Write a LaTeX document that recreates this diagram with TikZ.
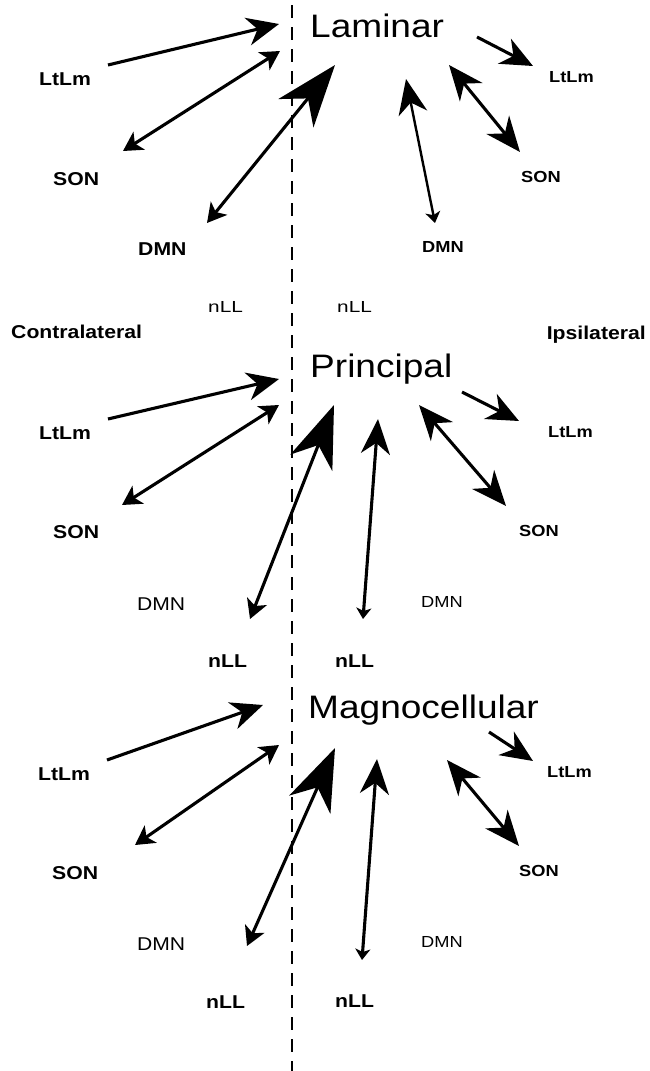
\documentclass[tikz,border=0pt]{standalone}
\usepackage{fontspec}
\setmainfont{Liberation Sans}[FakeStretch=1.14]
\newfontfamily\widefont{Liberation Sans}[FakeStretch=1.3]
\usetikzlibrary{arrows.meta}
\tikzset{
  lbl/.style={inner sep=0pt, anchor=base west, font=\bfseries\fontsize{18.6}{20}\selectfont},
  lblr/.style={inner sep=0pt, anchor=base west, font=\bfseries\fontsize{16}{18}\selectfont},
  reg/.style={inner sep=0pt, anchor=base west, font=\fontsize{18.5}{20}\selectfont},
  regr/.style={inner sep=0pt, anchor=base west, font=\fontsize{16}{18}\selectfont},
  nllreg/.style={inner sep=0pt, anchor=base west, font=\widefont\fontsize{16}{18}\selectfont},
  title/.style={inner sep=0pt, anchor=base west, font=\fontsize{32.5}{36}\selectfont},
  conn/.style={line width=3.1pt},
  connthin/.style={line width=2.4pt},
  tipM/.tip={Stealth[length=32pt,width=28pt,inset=10pt]},
  tipS/.tip={Stealth[length=19pt,width=21pt,inset=5pt]},
  tipB/.tip={Stealth[length=62pt,width=45pt,inset=19pt]},
  tipR/.tip={Stealth[length=35pt,width=29pt,inset=11pt]},
  tipT/.tip={Stealth[length=11pt,width=15pt,inset=3pt]},
  divider/.style={line width=1.5pt, dash pattern=on 13pt off 9pt}
}
\begin{document}
\begin{tikzpicture}[x=1pt,y=-1pt]
\useasboundingbox[fill=white] (0,0) rectangle (649,1071);

% dividing line
\coordinate (dtop) at (292,5);
\coordinate (dbot) at (292,1071);
\draw[divider] (dtop) -- (dbot);

% ---------------- Laminar ----------------
\node[title] (lam) at (310,37) {Laminar};
\node[lbl] (lamLtL) at (39,85) {LtLm};
\node[lbl] (lamSONL) at (53,185) {SON};
\node[lbl] (lamDMNL) at (138,255) {DMN};
\node[lblr] (lamLtR) at (549,82) {LtLm};
\node[lblr] (lamSONR) at (521,182) {SON};
\node[lblr] (lamDMNR) at (422,252) {DMN};

\coordinate (a1t) at (108,65);  \coordinate (a1h) at (279,24);
\coordinate (a2a) at (123,151); \coordinate (a2b) at (280,51);
\coordinate (a3a) at (207,223); \coordinate (a3b) at (335,65);
\coordinate (a4t) at (477,37);  \coordinate (a4h) at (533,66);
\coordinate (a5a) at (449,65);  \coordinate (a5b) at (520,152);
\coordinate (a6a) at (406,79);  \coordinate (a6b) at (435,223);

\draw[conn,-tipM] (a1t) -- (a1h);
\draw[conn,tipS-tipS] (a2a) -- (a2b);
\draw[conn,tipS-tipB] (a3a) -- (a3b);
\draw[conn,-tipM] (a4t) -- (a4h);
\draw[conn,tipR-tipR] (a5a) -- (a5b);
\draw[connthin,tipR-tipT] (a6a) -- (a6b);

% middle labels
\node[nllreg] (nllL) at (208,312) {nLL};
\node[nllreg] (nllR) at (337,312) {nLL};
\node[lbl] (contra) at (11,338) {Contralateral};
\node[lbl, anchor=base east] (ipsi) at (646,339) {Ipsilateral};

% ---------------- Principal ----------------
\node[title] (pri) at (310,377) {Principal};
\node[lbl] (priLtL) at (39,439) {LtLm};
\node[lbl] (priSONL) at (53,538) {SON};
\node[reg] (priDMNL) at (137,610) {DMN};
\node[lbl] (prinLLL) at (208,667) {nLL};
\node[lblr] (priLtR) at (548,437) {LtLm};
\node[lblr] (priSONR) at (519,536) {SON};
\node[regr] (priDMNR) at (421,607) {DMN};
\node[lbl] (prinLLR) at (335,667) {nLL};

\coordinate (b1t) at (108,419); \coordinate (b1h) at (279,379);
\coordinate (b2a) at (122,505); \coordinate (b2b) at (279,405);
\coordinate (b3a) at (250,619); \coordinate (b3b) at (334,405);
\coordinate (b4t) at (462,392); \coordinate (b4h) at (519,421);
\coordinate (b5a) at (419,405); \coordinate (b5b) at (506,506);
\coordinate (b6a) at (378,419); \coordinate (b6b) at (363,619);

\draw[conn,-tipM] (b1t) -- (b1h);
\draw[conn,tipS-tipS] (b2a) -- (b2b);
\draw[conn,tipS-tipB] (b3a) -- (b3b);
\draw[conn,-tipM] (b4t) -- (b4h);
\draw[conn,tipR-tipR] (b5a) -- (b5b);
\draw[conn,tipR-tipT] (b6a) -- (b6b);

% ---------------- Magnocellular ----------------
\node[title] (mag) at (308,718) {Magnocellular};
\node[lbl] (magLtL) at (38,780) {LtLm};
\node[lbl] (magSONL) at (52,879) {SON};
\node[reg] (magDMNL) at (137,950) {DMN};
\node[lbl] (magnLLL) at (206,1008) {nLL};
\node[lblr] (magLtR) at (547,777) {LtLm};
\node[lblr] (magSONR) at (519,876) {SON};
\node[regr] (magDMNR) at (421,947) {DMN};
\node[lbl] (magnLLR) at (335,1007) {nLL};

\coordinate (c1t) at (107,760); \coordinate (c1h) at (263,705);
\coordinate (c2a) at (135,845); \coordinate (c2b) at (279,745);
\coordinate (c3a) at (247,946); \coordinate (c3b) at (335,748);
\coordinate (c4t) at (489,732); \coordinate (c4h) at (533,761);
\coordinate (c5a) at (447,760); \coordinate (c5b) at (519,846);
\coordinate (c6a) at (377,759); \coordinate (c6b) at (362,960);

\draw[conn,-tipM] (c1t) -- (c1h);
\draw[conn,tipS-tipS] (c2a) -- (c2b);
\draw[conn,tipS-tipB] (c3a) -- (c3b);
\draw[conn,-tipM] (c4t) -- (c4h);
\draw[conn,tipR-tipR] (c5a) -- (c5b);
\draw[conn,tipR-tipT] (c6a) -- (c6b);
\end{tikzpicture}
\end{document}
